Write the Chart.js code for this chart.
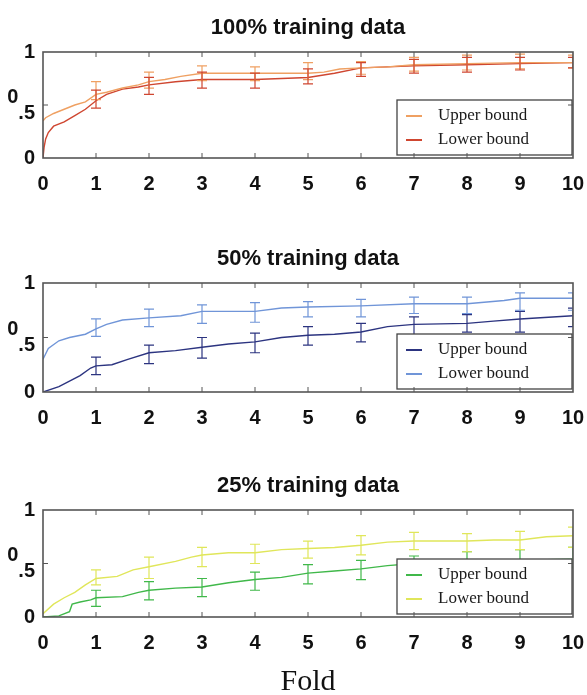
<!DOCTYPE html>
<html><head><meta charset="utf-8">
<script src="https://cdn.jsdelivr.net/npm/chart.js@4.4.1/dist/chart.umd.min.js"></script>
<style>
html,body{margin:0;padding:0;background:#fff;overflow:hidden;width:587px;height:695px}
canvas{position:absolute;left:0}
</style></head><body>
<canvas id="c1" width="587" height="198" style="top:0px"></canvas>
<canvas id="c2" width="587" height="201" style="top:231px"></canvas>
<canvas id="c3" width="587" height="239" style="top:458px"></canvas>
<script>
// ---- tick labels ----
const xTickLabels = ['0','1','2','3','4','5','6','7','8','9','10'];
const yTickValues = [0, 0.5, 1];
const yTickLabels = ['0', ['0   ', '.5'], '1'];
const errFolds = [1,2,3,4,5,6,7,8,9,10];
const seriesLabels = ['Upper bound', 'Lower bound'];
const titles = ['100% training data', '50% training data', '25% training data'];
const xAxisTitle = 'Fold';

// ---- 100% training data ----
const p100UpperX = [0,0.05,0.2,0.4,0.6,0.8,1,1.2,1.5,1.8,2,2.3,2.6,3,3.5,4,4.5,5,5.3,5.6,6,6.5,7,8,9,10];
const p100UpperY = [0.35,0.38,0.42,0.46,0.5,0.53,0.6,0.62,0.66,0.69,0.72,0.74,0.77,0.8,0.8,0.8,0.8,0.8,0.81,0.84,0.85,0.86,0.88,0.89,0.9,0.9];
const p100UpperErrLow  = [0.55,0.66,0.73,0.73,0.74,0.79,0.82,0.83,0.84,0.85];
const p100UpperErrHigh = [0.72,0.81,0.87,0.86,0.9,0.91,0.95,0.97,0.98,0.97];
const p100LowerX = [0,0.02,0.05,0.1,0.2,0.4,0.6,0.8,1,1.2,1.5,1.8,2,2.5,3,3.5,4,4.5,5,5.5,6,6.5,7,8,9,10];
const p100LowerY = [0,0.1,0.18,0.24,0.3,0.34,0.4,0.46,0.54,0.6,0.65,0.67,0.69,0.72,0.74,0.74,0.74,0.75,0.76,0.8,0.85,0.86,0.87,0.88,0.89,0.9];
const p100LowerErrLow  = [0.47,0.6,0.66,0.66,0.7,0.77,0.8,0.81,0.83,0.85];
const p100LowerErrHigh = [0.64,0.76,0.81,0.8,0.84,0.9,0.93,0.95,0.95,0.95];

// ---- 50% training data ----
const p50UpperX = [0,0.3,0.5,0.7,0.9,1,1.3,1.6,2,2.5,3,3.5,4,4.5,5,5.5,6,6.5,7,8,8.5,9,10];
const p50UpperY = [0,0.05,0.1,0.15,0.22,0.24,0.25,0.3,0.36,0.38,0.41,0.44,0.46,0.5,0.52,0.53,0.55,0.6,0.62,0.63,0.65,0.67,0.7];
const p50UpperErrLow  = [0.16,0.26,0.31,0.36,0.43,0.46,0.52,0.55,0.55,0.6];
const p50UpperErrHigh = [0.32,0.43,0.5,0.54,0.6,0.63,0.69,0.71,0.74,0.77];
const p50LowerX = [0,0.1,0.3,0.5,0.8,1,1.2,1.5,2,2.6,3,4,4.5,5,6,7,8,8.7,9,10];
const p50LowerY = [0.3,0.4,0.47,0.5,0.53,0.58,0.62,0.66,0.68,0.7,0.74,0.74,0.77,0.78,0.79,0.81,0.81,0.84,0.86,0.86];
const p50LowerErrLow  = [0.51,0.6,0.63,0.64,0.69,0.69,0.72,0.72,0.75,0.75];
const p50LowerErrHigh = [0.67,0.76,0.8,0.82,0.83,0.85,0.87,0.87,0.91,0.91];

// ---- 25% training data ----
const p25UpperX = [0,0.3,0.5,0.55,0.7,0.9,1,1.5,1.8,2,2.5,3,3.5,4,4.5,5,5.5,6,6.5,7,8,9,10];
const p25UpperY = [0,0.01,0.05,0.12,0.14,0.16,0.18,0.19,0.23,0.25,0.27,0.28,0.32,0.35,0.37,0.41,0.43,0.45,0.48,0.5,0.52,0.53,0.54];
const p25UpperErrLow  = [0.1,0.16,0.19,0.25,0.31,0.35,0.43,0.45,0.47,0.46];
const p25UpperErrHigh = [0.25,0.33,0.36,0.42,0.49,0.53,0.57,0.61,0.63,0.65];
const p25LowerX = [0,0.2,0.4,0.6,0.8,1,1.4,1.7,2,2.5,2.8,3,3.5,4,4.5,5,5.5,6,6.5,7,8,8.5,9,9.5,10];
const p25LowerY = [0.03,0.12,0.18,0.23,0.3,0.36,0.38,0.44,0.47,0.52,0.56,0.58,0.6,0.6,0.63,0.64,0.65,0.67,0.7,0.71,0.71,0.72,0.72,0.75,0.76];
const p25LowerErrLow  = [0.3,0.36,0.47,0.5,0.55,0.58,0.63,0.61,0.63,0.65];
const p25LowerErrHigh = [0.44,0.56,0.65,0.68,0.71,0.76,0.79,0.78,0.8,0.84];

// ---- styling ----
const SANS = "'Liberation Sans Narrow','Liberation Sans',Arial,sans-serif";
const SERIF = "'Liberation Serif','Times New Roman',serif";

function pts(xs, ys){ return xs.map((x,i)=>({x:x, y:ys[i]})); }

const panelPlugin = {
  id: 'panel',
  afterDatasetsDraw(chart){
    const {ctx, chartArea:a, scales:{x, y}} = chart;
    ctx.save();
    ctx.beginPath(); ctx.rect(a.left, a.top, a.width, a.height); ctx.clip();
    chart.data.datasets.forEach(ds=>{
      ctx.strokeStyle = ds.borderColor; ctx.lineWidth = 1.2;
      ds.errX.forEach((xv,i)=>{
        const px = x.getPixelForValue(xv);
        const pl = y.getPixelForValue(ds.errLow[i]);
        const ph = y.getPixelForValue(ds.errHigh[i]);
        ctx.beginPath();
        ctx.moveTo(px,pl); ctx.lineTo(px,ph);
        ctx.moveTo(px-5,pl); ctx.lineTo(px+5,pl);
        ctx.moveTo(px-5,ph); ctx.lineTo(px+5,ph);
        ctx.stroke();
      });
    });
    ctx.restore();
  },
  afterDraw(chart){
    const {ctx, chartArea:a, scales:{x, y}} = chart;
    ctx.save();
    // legend box
    const w = 175, h = 55;
    const lx = a.right - 1 - w, ly = a.bottom - 3 - h;
    ctx.fillStyle = '#fff';
    ctx.fillRect(lx, ly, w, h);
    ctx.strokeStyle = '#444'; ctx.lineWidth = 1.3;
    ctx.strokeRect(lx, ly, w, h);
    ctx.font = '17px ' + SERIF;
    ctx.textBaseline = 'middle'; ctx.textAlign = 'left';
    chart.data.datasets.forEach((ds,i)=>{
      const ry = ly + 16 + i*24;
      ctx.strokeStyle = ds.borderColor; ctx.lineWidth = 2;
      ctx.beginPath(); ctx.moveTo(lx+9, ry); ctx.lineTo(lx+25, ry); ctx.stroke();
      ctx.fillStyle = '#1a1a1a';
      ctx.fillText(ds.label, lx+41, ry);
    });
    // frame
    ctx.strokeStyle = '#555'; ctx.lineWidth = 1.6;
    ctx.strokeRect(a.left, a.top, a.width, a.height);
    // inward ticks
    ctx.lineWidth = 1;
    ctx.beginPath();
    for (let v = 1; v <= 9; v++){
      const px = x.getPixelForValue(v);
      ctx.moveTo(px, a.bottom); ctx.lineTo(px, a.bottom-5);
      ctx.moveTo(px, a.top); ctx.lineTo(px, a.top+5);
    }
    const py = y.getPixelForValue(0.5);
    ctx.moveTo(a.left, py); ctx.lineTo(a.left+5, py);
    ctx.moveTo(a.right, py); ctx.lineTo(a.right-5, py);
    ctx.stroke();
    ctx.restore();
  }
};

function makeChart(id, title, upper, lower, showXTitle){
  const mk = (s, label) => ({
    label: label,
    data: pts(s.x, s.y),
    borderColor: s.color,
    borderWidth: 1.4,
    pointRadius: 0,
    fill: false,
    tension: 0,
    errX: errFolds, errLow: s.lo, errHigh: s.hi
  });
  return new Chart(document.getElementById(id), {
    type: 'line',
    data: { datasets: [mk(upper, seriesLabels[0]), mk(lower, seriesLabels[1])] },
    options: {
      responsive: false,
      animation: false,
      layout: { padding: { left: 0, right: 14, top: 0, bottom: 0 } },
      plugins: {
        legend: { display: false },
        tooltip: { enabled: false },
        title: {
          display: true, text: title, color: '#111', fullSize: false,
          font: { family: SANS, size: 22, weight: 'bold', lineHeight: 1.2 },
          padding: { top: 15, bottom: 10.6 }
        }
      },
      scales: {
        x: {
          type: 'linear', min: 0, max: 10,
          grid: { display: false, drawTicks: true, tickLength: 14 },
          border: { display: false },
          ticks: {
            stepSize: 1, autoSkip: false, maxRotation: 0, padding: 0, color: '#111',
            font: { family: SANS, size: 20, weight: 'bold' },
            callback: (v) => xTickLabels[v]
          },
          title: {
            display: showXTitle, text: xAxisTitle, color: '#111',
            font: { family: SERIF, size: 30, lineHeight: 1 },
            padding: { top: 0, bottom: 0 }
          },
          afterFit: (s) => { s.height = showXTitle ? 80 : 40; }
        },
        y: {
          min: 0, max: 1,
          grid: { display: false, drawTicks: false },
          border: { display: false },
          afterBuildTicks: (s) => { s.ticks = yTickValues.map(v => ({ value: v })); },
          ticks: {
            padding: 8, color: '#111',
            font: { family: SANS, size: 20, weight: 'bold', lineHeight: 0.8 },
            callback: (v) => yTickLabels[yTickValues.indexOf(v)]
          },
          afterFit: (s) => { s.width = 43; }
        }
      }
    },
    plugins: [panelPlugin]
  });
}

makeChart('c1', titles[0],
  { x: p100UpperX, y: p100UpperY, lo: p100UpperErrLow, hi: p100UpperErrHigh, color: '#efa062' },
  { x: p100LowerX, y: p100LowerY, lo: p100LowerErrLow, hi: p100LowerErrHigh, color: '#cf4630' }, false);
makeChart('c2', titles[1],
  { x: p50UpperX, y: p50UpperY, lo: p50UpperErrLow, hi: p50UpperErrHigh, color: '#2c3480' },
  { x: p50LowerX, y: p50LowerY, lo: p50LowerErrLow, hi: p50LowerErrHigh, color: '#7095d8' }, false);
makeChart('c3', titles[2],
  { x: p25UpperX, y: p25UpperY, lo: p25UpperErrLow, hi: p25UpperErrHigh, color: '#40b84a' },
  { x: p25LowerX, y: p25LowerY, lo: p25LowerErrLow, hi: p25LowerErrHigh, color: '#e0e65a' }, true);
</script>
</body></html>
